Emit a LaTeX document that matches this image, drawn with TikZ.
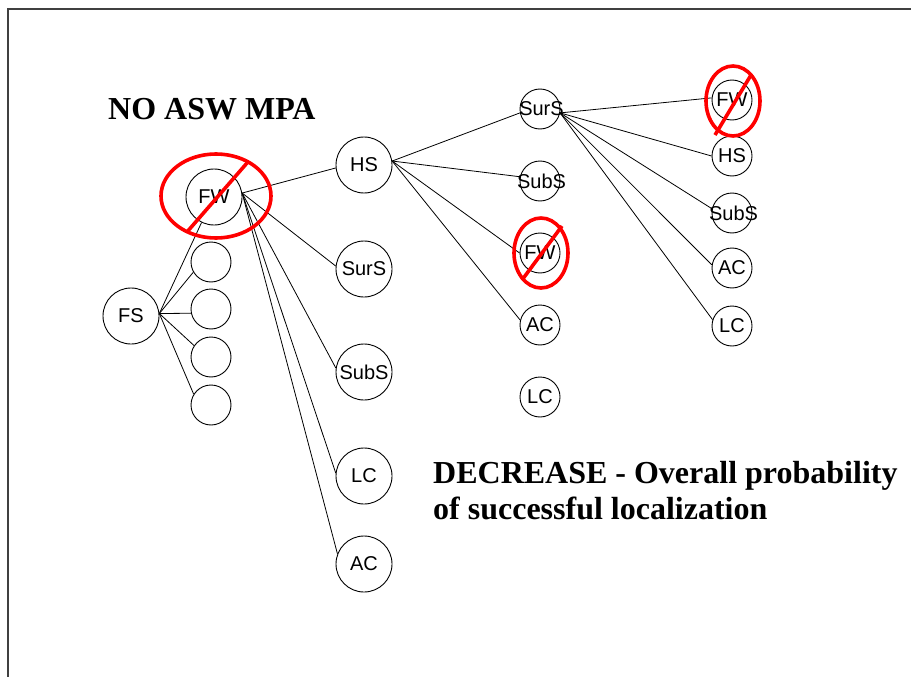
\documentclass[tikz,border=0pt]{standalone}
\usepackage{fontspec}
\setmainfont{Liberation Serif}
\newfontfamily\nodefont{Liberation Sans}
% label of fixed zero width, so the text never enlarges its circle
\newcommand{\lbl}[1]{\makebox[0pt]{#1}}

\begin{document}
\begin{tikzpicture}[x=1pt,y=-1pt,
  big/.style={circle,draw,line width=0.9pt,minimum size=56pt,inner sep=0pt,
              font=\nodefont\fontsize{20}{20}\selectfont},
  small/.style={big,minimum size=40pt},
  link/.style={line width=0.8pt},
  ban/.style={draw=red,line width=3.6pt},
  heading/.style={font=\bfseries\fontsize{32}{36.5}\selectfont,inner sep=0pt}]

\useasboundingbox (0,0) rectangle (911,677);
\fill[white] (0,0) rectangle (911,677);

% page frame (top and left edges)
\draw[line width=1.1pt,black!75] (8,677) -- (8,9) -- (911,9);

% first level
\node[big] (FS) at (131,316) {\lbl{FS}};
\node[big] (FW) at (214,197) {\lbl{FW}};
\node[small] (e1) at (211,262) {};
\node[small] (e2) at (211,309) {};
\node[small] (e3) at (211,357) {};
\node[small] (e4) at (211,405) {};

% second level
\node[big] (HS)   at (364,165) {\lbl{HS}};
\node[big] (SurS) at (364,269) {\lbl{SurS}};
\node[big] (SubS) at (364,372) {\lbl{SubS}};
\node[big] (LC)   at (364,476) {\lbl{LC}};
\node[big] (AC)   at (364,564) {\lbl{AC}};

% third level
\node[small] (SurSb) at (540,109) {\lbl{\hspace{3pt}SurS}};
\node[small] (SubSb) at (540,181) {\lbl{\hspace{3pt}SubS}};
\node[small] (FWb)   at (540,253) {\lbl{FW}};
\node[small] (ACb)   at (540,325) {\lbl{AC}};
\node[small] (LCb)   at (540,397) {\lbl{LC}};

% fourth level
\node[small] (FWc)   at (732,100) {\lbl{FW}};
\node[small] (HSc)   at (732,156) {\lbl{HS}};
\node[small] (SubSc) at (732,213) {\lbl{\hspace{3pt}SubS}};
\node[small] (ACc)   at (732,268) {\lbl{AC}};
\node[small] (LCc)   at (732,326) {\lbl{LC}};

% connectors
\draw[link] (FS.5) -- (FW.244);
\draw[link] (FS.5) -- (e1.210);
\draw[link] (FS.5) -- (e2.192);
\draw[link] (FS.5) -- (e3.146);
\draw[link] (FS.5) -- (e4.148);

\draw[link] (FW.8) -- (HS.186);
\draw[link] (FW.8) -- (SurS.174);
\draw[link] (FW.8) -- (SubS.172);
\draw[link] (FW.8) -- (LC.174);
\draw[link] (FW.8) -- (AC.159);

\draw[link] (HS.8) -- (SurSb.191);
\draw[link] (HS.8) -- (SubSb.168);
\draw[link] (HS.8) -- (FWb.180);
\draw[link] (HS.8) -- (ACb.166);

\draw[link] (SurSb.349) -- (FWc.174);
\draw[link] (SurSb.349) -- (HSc.180);
\draw[link] (SurSb.349) -- (SubSc.168);
\draw[link] (SurSb.349) -- (ACc.171);
\draw[link] (SurSb.349) -- (LCc.162);

% crossed-out nodes
\draw[ban] (216,196) ellipse [x radius=55, y radius=42];
\draw[ban] (187,232) -- (247,163);
\draw[ban] (541,253) ellipse [x radius=27, y radius=35];
\draw[ban] (522,280) -- (562,226);
\draw[ban] (733,101) ellipse [x radius=27, y radius=35];
\draw[ban] (715,135) -- (751,75);

% headings
\node[heading,anchor=base west] (title) at (108,120) {NO ASW MPA};
\node[heading,anchor=north west,align=left] (result) at (433,461)
  {DECREASE - Overall probability\\of successful localization};

\end{tikzpicture}
\end{document}
